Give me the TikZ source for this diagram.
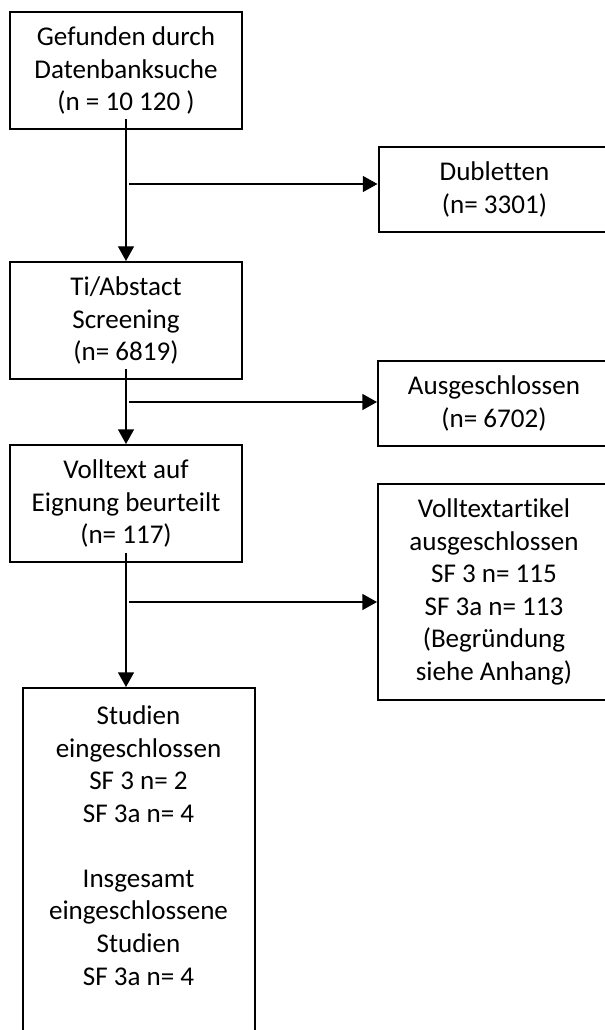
\documentclass[tikz,border=0pt]{standalone}
\usepackage{fontspec}
\setmainfont{Carlito}[Ligatures=NoCommon]
\usepackage{tikz}
\usetikzlibrary{positioning,arrows.meta}

\begin{document}
\begin{tikzpicture}[x=0.75pt, y=-0.75pt, >={Triangle[length=11pt,width=12pt]},
    stage/.style={draw, line width=1.5pt, align=center, inner sep=0pt,
        font=\fontsize{20.3}{24.4}\selectfont, minimum width=174pt},
    flow/.style={->, line width=1pt}]

    \useasboundingbox (0,0) rectangle (605,1030);
    \clip (0,0) rectangle (605,1030);

    % left column
    \node[stage, minimum height=87.75pt] (s0) at (126,70.5)  {Gefunden durch\\Datenbanksuche\\(n = 10 120 )};
    \node[stage, minimum height=87.75pt] (s2) at (126,320.5) {Ti/Abstact\\Screening\\(n= 6819)};
    \node[stage, minimum height=87.75pt] (s4) at (126,503.5) {Volltext auf\\Eignung beurteilt\\(n= 117)};
    \node[stage, minimum height=285pt]   (s6) at (138.5,878) {Studien\\eingeschlossen\\SF 3 n= 2\\SF 3a n= 4\\\mbox{}\\Insgesamt\\eingeschlossene\\Studien\\SF 3a n= 4\\\mbox{}\\\mbox{}};

    % right column
    \node[stage, minimum height=63.75pt] (s1) at (494.5,189.5) {Dubletten\\(n= 3301)};
    \node[stage, minimum height=63.75pt] (s3) at (494,403.5)   {Ausgeschlossen\\(n= 6702)};
    \node[stage, minimum height=162pt]   (s5) at (494,592)     {Volltextartikel\\ausgeschlossen\\SF 3 n= 115\\SF 3a n= 113\\(Begründung\\siehe Anhang)};

    \coordinate (c1) at (129,184);
    \coordinate (c3) at (129,402);
    \coordinate (c5) at (129,602);

    \draw[flow] ([yshift=8pt]s0.south) -- (s2.north);
    \draw[flow] ([yshift=8pt]s2.south) -- (s4.north);
    \draw[flow] ([yshift=7.5pt]s4.south) -- (s4.south |- s6.north);

    \draw[flow] (c1) -- (c1 -| s1.west);
    \draw[flow] (c3) -- (c3 -| s3.west);
    \draw[flow] (c5) -- (c5 -| s5.west);

\end{tikzpicture}
\end{document}
